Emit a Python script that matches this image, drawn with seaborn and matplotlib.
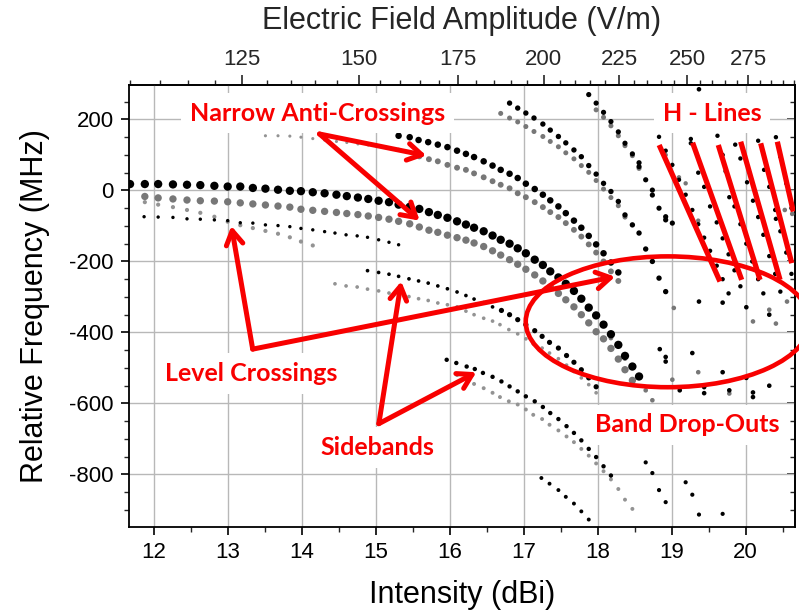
import numpy as np
import matplotlib
matplotlib.use("Agg")
import matplotlib.pyplot as plt
from matplotlib.patches import Ellipse
from matplotlib.ticker import MultipleLocator, FixedLocator, NullFormatter
import seaborn as sns

# ---------------- data (Intensity dBi, Relative frequency MHz) -------------
# main carrier, large black dots
A_int = [11.68, 11.88, 12.06, 12.26, 12.45, 12.63, 12.82, 13.00, 13.17, 13.34, 13.51, 13.68, 13.84,
         13.99, 14.15, 14.31, 14.47, 14.61, 14.76, 14.90, 15.04, 15.18, 15.31, 15.46, 15.59, 15.72,
         15.84, 15.97, 16.10, 16.22, 16.33, 16.46, 16.58, 16.69, 16.81, 16.92, 17.03, 17.15, 17.26,
         17.36, 17.47, 17.57, 17.68, 17.78, 17.88, 17.98, 18.08, 18.18, 18.28, 18.37, 18.47, 18.56]
A_freq = [18, 18, 18, 17, 16, 15, 13, 11, 11, 7, 5, 2, -1,
          -2, -5, -8, -12, -16, -20, -24, -29, -33, -40, -46, -52, -61,
          -69, -77, -87, -96, -105, -115, -127, -139, -150, -163, -177, -195, -210,
          -228, -245, -263, -283, -305, -330, -352, -378, -405, -435, -466, -496, -524]
# main carrier companion, large grey dots
Ag_int = [11.88, 12.06, 12.26, 12.45, 12.63, 12.82, 13.00, 13.17, 13.34, 13.51, 13.68, 13.84,
          13.99, 14.15, 14.31, 14.47, 14.61, 14.76, 14.90, 15.04, 15.18, 15.31, 15.46, 15.59, 15.72,
          15.84, 15.97, 16.10, 16.22, 16.33, 16.46, 16.58, 16.69, 16.81, 16.92, 17.03, 17.15, 17.26,
          17.36, 17.47, 17.57, 17.68, 17.78, 17.88, 17.98, 18.08, 18.18, 18.28, 18.37, 18.47]
Ag_freq = [-17, -21, -24, -27, -29, -30, -32, -35, -38, -41, -44, -47,
           -53, -56, -59, -62, -65, -68, -72, -76, -81, -87, -94, -103, -112,
           -118, -126, -133, -140, -148, -158, -170, -182, -195, -208, -222, -238, -255,
           -272, -290, -308, -328, -350, -373, -398, -418, -445, -475, -505, -535]
# small grey row (level crossing)
Ags_int = [11.88, 12.06, 12.26, 12.45, 12.63, 12.82, 13.00, 13.17, 13.34, 13.51, 13.68, 13.84, 13.99, 14.15]
Ags_freq = [-33, -40, -47, -55, -63, -74, -88, -98, -106, -114, -122, -132, -144, -155]
# small black row
Abs_int = [11.87, 12.06, 12.26, 12.45, 12.63, 12.82, 13.00, 13.17, 13.34, 13.51, 13.68, 13.84,
           13.99, 14.15, 14.31, 14.45, 14.60, 14.75, 14.89, 15.04, 15.18, 15.31]
Abs_freq = [-74, -75, -76, -80, -81, -83, -85, -91, -92, -97, -99, -102,
            -107, -111, -116, -120, -125, -128, -132, -139, -146, -153]
# upper anti-crossing curve
Bt_int = [13.51, 13.68, 13.84, 13.99, 14.15, 14.31, 14.47, 14.61, 14.76, 14.90, 15.04, 15.18, 15.31, 15.46]
Bt_freq = [154, 154, 153, 150, 146, 142, 138, 135, 131, 128, 124, 120, 116, 108]
B_int = [15.31, 15.46, 15.58, 15.71, 15.84, 15.97, 16.10, 16.22, 16.33, 16.46, 16.58, 16.69, 16.81,
         16.92, 17.03, 17.15, 17.26, 17.36, 17.47, 17.57, 17.68, 17.78, 17.88, 17.98, 18.08, 18.18, 18.28]
B_freq = [154, 150, 142, 136, 129, 122, 112, 103, 94, 82, 70, 58, 47,
          35, 19, 4, -12, -28, -45, -64, -85, -105, -128, -152, -177, -203, -231]
Bg_int = [15.59, 15.72, 15.84, 15.97, 16.10, 16.22, 16.33, 16.46, 16.58, 16.69, 16.81, 16.92, 17.03,
          17.15, 17.26, 17.36, 17.47, 17.57, 17.68, 17.78, 17.88, 17.98, 18.08, 18.18, 18.28]
Bg_freq = [96, 88, 82, 72, 64, 58, 48, 37, 26, 16, 6, -8, -19,
           -33, -47, -61, -75, -92, -111, -130, -152, -175, -200, -228, -255]
# curves entering from the top
C1_int = [16.81, 16.92, 17.03, 17.14, 17.26, 17.36, 17.47, 17.57, 17.68, 17.78, 17.88, 17.98, 18.08,
          18.18, 18.28, 18.37, 18.47, 18.56, 18.65, 18.74, 18.83, 18.92]
C1_freq = [246, 232, 218, 204, 187, 170, 152, 134, 114, 95, 70, 46, 20,
           -3, -31, -69, -97, -120, -165, -200, -247, -285]
C1g_int = [16.69, 16.81, 16.92, 17.03, 17.14, 17.26, 17.36, 17.47, 17.57, 17.68, 17.78, 17.88, 17.98,
           18.08, 18.18, 18.28, 18.37]
C1g_freq = [217, 204, 193, 180, 166, 152, 138, 123, 106, 89, 70, 51, 28, 4, -20, -43, -75]
C3_int = [17.88, 17.98, 18.08, 18.18, 18.28, 18.37, 18.47, 18.56, 18.56, 18.65, 18.74, 18.74, 18.83,
          18.92, 18.92, 19.01]
C3_freq = [270, 246, 220, 194, 165, 133, 103, 78, 67, 30, 1, -13, -50, -74, -83, -92]
C3g_int = [17.98, 18.08, 18.18, 18.28, 18.37, 18.47, 18.56]
C3g_freq = [227, 206, 182, 154, 126, 98, 62]
# sidebands
D1_int = [14.89, 15.04, 15.18, 15.31, 15.45, 15.58, 15.71, 15.84, 15.97, 16.10, 16.22, 16.33, 16.46, 16.58]
D1_freq = [-226, -231, -236, -242, -249, -255, -261, -269, -277, -286, -296, -306, -316, -328]
D2_int = [16.70, 16.81, 16.92, 17.03, 17.15, 17.25, 17.35, 17.47, 17.58, 17.68, 17.78, 17.88, 17.98]
D2_freq = [-338, -350, -364, -378, -395, -411, -428, -444, -465, -484, -505, -528, -553]
Dg_int = [14.45, 14.60, 14.75, 14.89, 15.04, 15.18, 15.31, 15.45, 15.58, 15.71, 15.84, 15.97, 16.10,
          16.22, 16.33, 16.46, 16.58, 16.68, 16.80, 16.92, 17.03, 17.13, 17.25, 17.35, 17.47, 17.58,
          17.68, 17.78, 17.88, 17.98]
Dg_freq = [-263, -269, -272, -278, -283, -289, -294, -299, -305, -310, -317, -322, -328,
           -340, -350, -360, -368, -378, -392, -404, -418, -432, -444, -458, -474, -492,
           -510, -528, -547, -570]
E_int = [15.96, 16.09, 16.23, 16.34, 16.45, 16.58, 16.70, 16.81, 16.92, 17.03, 17.15, 17.26, 17.36,
         17.47, 17.58, 17.68, 17.78, 17.88, 17.98, 18.08, 18.18]
E_freq = [-477, -486, -496, -503, -514, -525, -538, -552, -566, -580, -594, -610, -627,
          -644, -664, -683, -704, -728, -751, -777, -803]
Eg_int = [16.10, 16.22, 16.33, 16.46, 16.58, 16.68, 16.80, 16.92, 17.03, 17.13, 17.25, 17.35, 17.47,
          17.58, 17.68, 17.78, 17.88, 17.98, 18.08, 18.18, 18.28, 18.37, 18.47]
Eg_freq = [-520, -532, -545, -557, -570, -582, -594, -603, -617, -632, -644, -660, -676,
           -693, -709, -728, -747, -769, -791, -814, -841, -871, -897]
F_int = [17.24, 17.35, 17.47, 17.57, 17.68, 17.78, 17.88]
F_freq = [-810, -826, -844, -863, -882, -904, -927]
G_int = [18.65, 18.74, 18.83, 18.92, 19.19, 19.28, 19.37, 19.69]
G_freq = [-766, -796, -844, -878, -822, -857, -913, -911]
# scattered dots around the band drop-outs
Sk_int = [18.84, 18.92, 18.92, 19.11, 19.28, 19.44, 19.44, 19.69, 19.78, 20.01, 20.10, 20.10,
          20.32, 20.01, 20.32, 19.37, 19.69, 19.37]
Sk_freq = [-447, -469, -482, -563, -458, -554, -571, -512, -563, -528, -569, -582,
           -550, -329, -350, -313, -316, 285]
Sg_int = [18.18, 18.37, 18.65, 18.74, 19.01, 19.36, 19.78, 20.10, 20.32, 20.41, 20.56, 19.03,
          20.53, 20.63]
Sg_freq = [-416, -474, -563, -591, -533, -512, -572, -369, -336, -375, -313, -331, -55, -66]
# H-lines
H1_int = [18.83, 18.92, 19.01, 19.10, 19.19, 19.28, 19.36, 19.44, 19.52, 19.61, 19.69, 19.77]
H1_freq = [151, 112, 72, 30, -12, -55, -95, -133, -170, -212, -250, -290]
H1g_int = [18.92, 19.10, 19.19, 19.36]
H1g_freq = [100, 37, 20, -85]
H2_int = [19.26, 19.26, 19.36, 19.44, 19.52, 19.61, 19.69, 19.77, 19.85, 19.93]
H2_freq = [145, 133, 50, 10, -45, -90, -135, -180, -225, -270]
H3_int = [19.62, 19.69, 19.73, 19.78, 19.85, 19.93, 20.01, 20.09, 20.17, 20.24]
H3_freq = [154, 100, 54, -19, -45, -95, -150, -200, -250, -290]
H4_int = [19.86, 19.93, 20.02, 20.10, 20.17, 20.24, 20.32, 20.40, 20.47]
H4_freq = [129, 90, 23, -29, -75, -125, -185, -235, -285]
H5_int = [20.17, 20.25, 20.32, 20.40, 20.41, 20.47, 20.55, 20.62]
H5_freq = [140, 58, 10, -55, -80, -115, -175, -235]
H6_int = [20.41, 20.47, 20.55, 20.62]
H6_freq = [150, 95, 20, -50]

E_field_ticks = [125, 150, 175, 200, 225, 250, 275]

# ---------------- style ----------------
sns.set_theme(style="white")
plt.rcParams["font.family"] = ["Liberation Sans Narrow", "Liberation Sans", "DejaVu Sans"]
plt.rcParams["axes.unicode_minus"] = False

BLACK = "#000000"
GRAY = "#777777"
LGRAY = "#939393"
RED = "#f80000"

fig = plt.figure(figsize=(7.99, 6.15), dpi=100)
ax = fig.add_axes([129 / 799, 1 - 527 / 615, (795 - 129) / 799, (527 - 85) / 615])

series = [
    (Ag_int, Ag_freq, GRAY, 28),
    (Ags_int, Ags_freq, LGRAY, 9),
    (Bt_int, Bt_freq, LGRAY, 5),
    (Bg_int, Bg_freq, GRAY, 18),
    (C1g_int, C1g_freq, GRAY, 13),
    (C3g_int, C3g_freq, GRAY, 13),
    (Dg_int, Dg_freq, LGRAY, 7),
    (Eg_int, Eg_freq, LGRAY, 8),
    (Sg_int, Sg_freq, GRAY, 11),
    (H1g_int, H1g_freq, GRAY, 10),
    (A_int, A_freq, BLACK, 36),
    (Abs_int, Abs_freq, BLACK, 6),
    (B_int, B_freq, BLACK, 22),
    (C1_int, C1_freq, BLACK, 15),
    (C3_int, C3_freq, BLACK, 14),
    (D1_int, D1_freq, BLACK, 7),
    (D2_int, D2_freq, BLACK, 14),
    (E_int, E_freq, BLACK, 10),
    (F_int, F_freq, BLACK, 8),
    (G_int, G_freq, BLACK, 9),
    (Sk_int, Sk_freq, BLACK, 11),
    (H1_int, H1_freq, BLACK, 10),
    (H2_int, H2_freq, BLACK, 10),
    (H3_int, H3_freq, BLACK, 10),
    (H4_int, H4_freq, BLACK, 10),
    (H5_int, H5_freq, BLACK, 10),
    (H6_int, H6_freq, BLACK, 10),
]
for xs, ys, col, sz in series:
    sns.scatterplot(x=xs, y=ys, color=col, s=sz, edgecolor="none", linewidth=0,
                    ax=ax, legend=False, zorder=3)

# ---------------- axes ----------------
ax.set_xlim(11.666, 20.668)
ax.set_ylim(-948, 297)
ax.xaxis.set_major_locator(MultipleLocator(1))
ax.xaxis.set_minor_locator(MultipleLocator(0.5))
ax.yaxis.set_major_locator(MultipleLocator(200))
ax.yaxis.set_minor_locator(MultipleLocator(50))
ax.grid(True, which="major", color="#b8b8b8", lw=1.0)
ax.set_axisbelow(True)
ax.tick_params(which="major", direction="out", length=6, width=1.2, labelsize=16,
               colors="black", pad=5, bottom=True, left=True)
ax.tick_params(which="minor", direction="out", length=3.5, width=1.0, bottom=True, left=True)
ax.tick_params(which="both", top=False, right=False)
for sp in ax.spines.values():
    sp.set_linewidth(1.3)
    sp.set_color("black")
ax.set_xlabel("Intensity (dBi)", fontsize=22, labelpad=12, color="black")
ax.set_ylabel("Relative Frequency (MHz)", fontsize=22, labelpad=14, color="black")

ry = ax.secondary_yaxis("right")
ry.yaxis.set_major_locator(MultipleLocator(200))
ry.yaxis.set_minor_locator(MultipleLocator(50))
ry.yaxis.set_major_formatter(NullFormatter())
ry.tick_params(which="major", direction="in", length=6, width=1.2)
ry.tick_params(which="minor", direction="in", length=3.5, width=1.0)
ry.spines["right"].set_linewidth(1.3)

E0 = 27.38


def to_field(i):
    return E0 * 10 ** (np.asarray(i, dtype=float) / 20.0)


def to_int(e):
    e = np.clip(np.asarray(e, dtype=float), 1e-6, None)
    return 20.0 * np.log10(e / E0)


tx = ax.secondary_xaxis("top", functions=(to_field, to_int))
tx.xaxis.set_major_locator(FixedLocator(E_field_ticks))
tx.xaxis.set_minor_locator(MultipleLocator(5))
tx.tick_params(which="major", direction="out", length=7, width=1.2, labelsize=16, pad=4)
tx.tick_params(which="minor", direction="out", length=3.5, width=1.0)
tx.spines["top"].set_linewidth(1.3)
tx.set_xlabel("Electric Field Amplitude (V/m)", fontsize=22, labelpad=14)

# ---------------- red annotations ----------------
afont = dict(family=["Lato", "DejaVu Sans"], weight="bold", size=18, color=RED)
box = dict(boxstyle="square,pad=0.35", fc="white", ec="none")


def label(x, y, s):
    ax.text(x, y, s, ha="center", va="center", bbox=box, zorder=5, **afont)


def arrow(tail, head):
    ax.annotate("", xy=head, xytext=tail, zorder=6, annotation_clip=False,
                arrowprops=dict(arrowstyle="->,head_length=0.5,head_width=0.3",
                                color=RED, lw=3.6, shrinkA=0, shrinkB=0,
                                mutation_scale=20, capstyle="round"))


label(14.213, 218, "Narrow Anti-Crossings")
label(19.552, 218, "H - Lines")
label(13.321, -516, "Level Crossings")
label(15.03, -724, "Sidebands")
label(19.207, -660, "Band Drop-Outs")

arrow((14.241, 159), (15.685, 98))
arrow((14.241, 159), (15.594, -85))
arrow((13.338, -447), (13.05, -100))
arrow((13.338, -447), (18.236, -243))
arrow((15.043, -657), (15.346, -256))
arrow((15.043, -657), (16.361, -512))

ax.add_patch(Ellipse((18.95, -370), width=3.843, height=368.5, fill=False, ec=RED,
                     lw=3.3, clip_on=False, zorder=6))

h_red = [((18.832, 128), (19.654, -256.5)),
         ((19.284, 134.5), (19.947, -251.8)),
         ((19.631, 128), (20.195, -251.8)),
         ((19.934, 137.3), (20.466, -251.8)),
         ((20.204, 132.8), (20.624, -204.8)),
         ((20.429, 137.3), (20.645, -59.6))]
for (x0, y0), (x1, y1) in h_red:
    ax.plot([x0, x1], [y0, y1], color=RED, lw=3.8, solid_capstyle="butt", zorder=6)

fig.savefig("out.png", dpi=100)
